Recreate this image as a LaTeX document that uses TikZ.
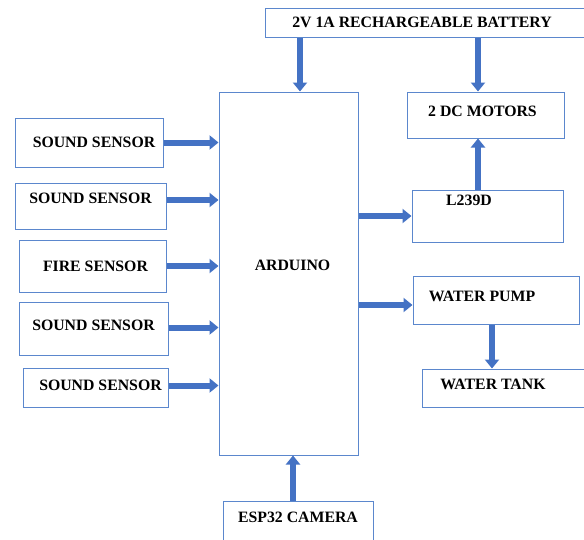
\documentclass[tikz,border=0pt]{standalone}
\usepackage{fontspec}
\setmainfont{Liberation Serif}
\usetikzlibrary{arrows.meta}
\definecolor{boxblue}{RGB}{91,135,205}
\definecolor{arrblue}{RGB}{68,114,196}
\begin{document}
\begin{tikzpicture}[
x=1pt,y=-1pt,
every node/.style={rectangle,draw=boxblue,line width=1pt,inner sep=0pt,
	font=\fontsize{15.8}{18}\selectfont\bfseries},
txtup/.style={text depth=#1},
blk/.style={arrblue,line width=6pt,-{Triangle[length=9pt,width=14pt]}}
]
\useasboundingbox (0,0) rectangle (584,539);
\node[minimum width=320,minimum height=29] (bat) at (425,22.5) {2V 1A RECHARGEABLE BATTERY\kern6pt};
\node[minimum width=139,minimum height=363,txtup=16] (ard) at (288.5,273.5) {\kern8pt ARDUINO};
\node[minimum width=157,minimum height=46,txtup=8] (mot) at (485.5,115) {2 DC MOTORS\kern6pt};
\node[minimum width=151,minimum height=52,txtup=32] (l239) at (487.5,216) {L239D\kern37pt};
\node[minimum width=166,minimum height=48,txtup=8] (pump) at (496,300) {WATER PUMP\kern28pt};
\node[minimum width=166,minimum height=38,txtup=8] (tank) at (505,388) {WATER TANK\kern24pt};
\node[minimum width=148,minimum height=49] (s1) at (89,142.5) {\kern10pt SOUND SENSOR};
\node[minimum width=151,minimum height=46,txtup=16] (s2) at (90.5,206) {SOUND SENSOR};
\node[minimum width=147,minimum height=52] (fire) at (92.5,266) {\kern6pt FIRE SENSOR};
\node[minimum width=149,minimum height=53,txtup=6] (s3) at (93.5,328.5) {SOUND SENSOR};
\node[minimum width=145,minimum height=39,txtup=5] (s4) at (95.5,387.5) {\kern10pt SOUND SENSOR};
\node[minimum width=150,minimum height=40,txtup=8] (cam) at (298,521) {ESP32 CAMERA};
% arrow lanes
\coordinate (ax) at (300,0);
\coordinate (mx) at (478,0);
\coordinate (px) at (492,0);
\coordinate (cx) at (293,0);
\coordinate (py) at (0,305);
\draw[blk] (s1.east) -- (s1 -| ard.west);
\draw[blk] ([yshift=6]s2.east) -- ([yshift=6]s2.east -| ard.west);
\draw[blk] (fire.east) -- (fire -| ard.west);
\draw[blk] ([yshift=1]s3.east) -- ([yshift=1]s3.east -| ard.west);
\draw[blk] ([yshift=2]s4.east) -- ([yshift=2]s4.east -| ard.west);
\draw[blk] (bat.south -| ax) -- (ard.north -| ax);
\draw[blk] (bat.south -| mx) -- (mot.north -| mx);
\draw[blk] (l239.north -| mx) -- (mot.south -| mx);
\draw[blk] (ard.east |- l239) -- (l239.west);
\draw[blk] (ard.east |- py) -- (pump.west |- py);
\draw[blk] (pump.south -| px) -- (tank.north -| px);
\draw[blk] (cam.north -| cx) -- (ard.south -| cx);
\end{tikzpicture}
\end{document}
